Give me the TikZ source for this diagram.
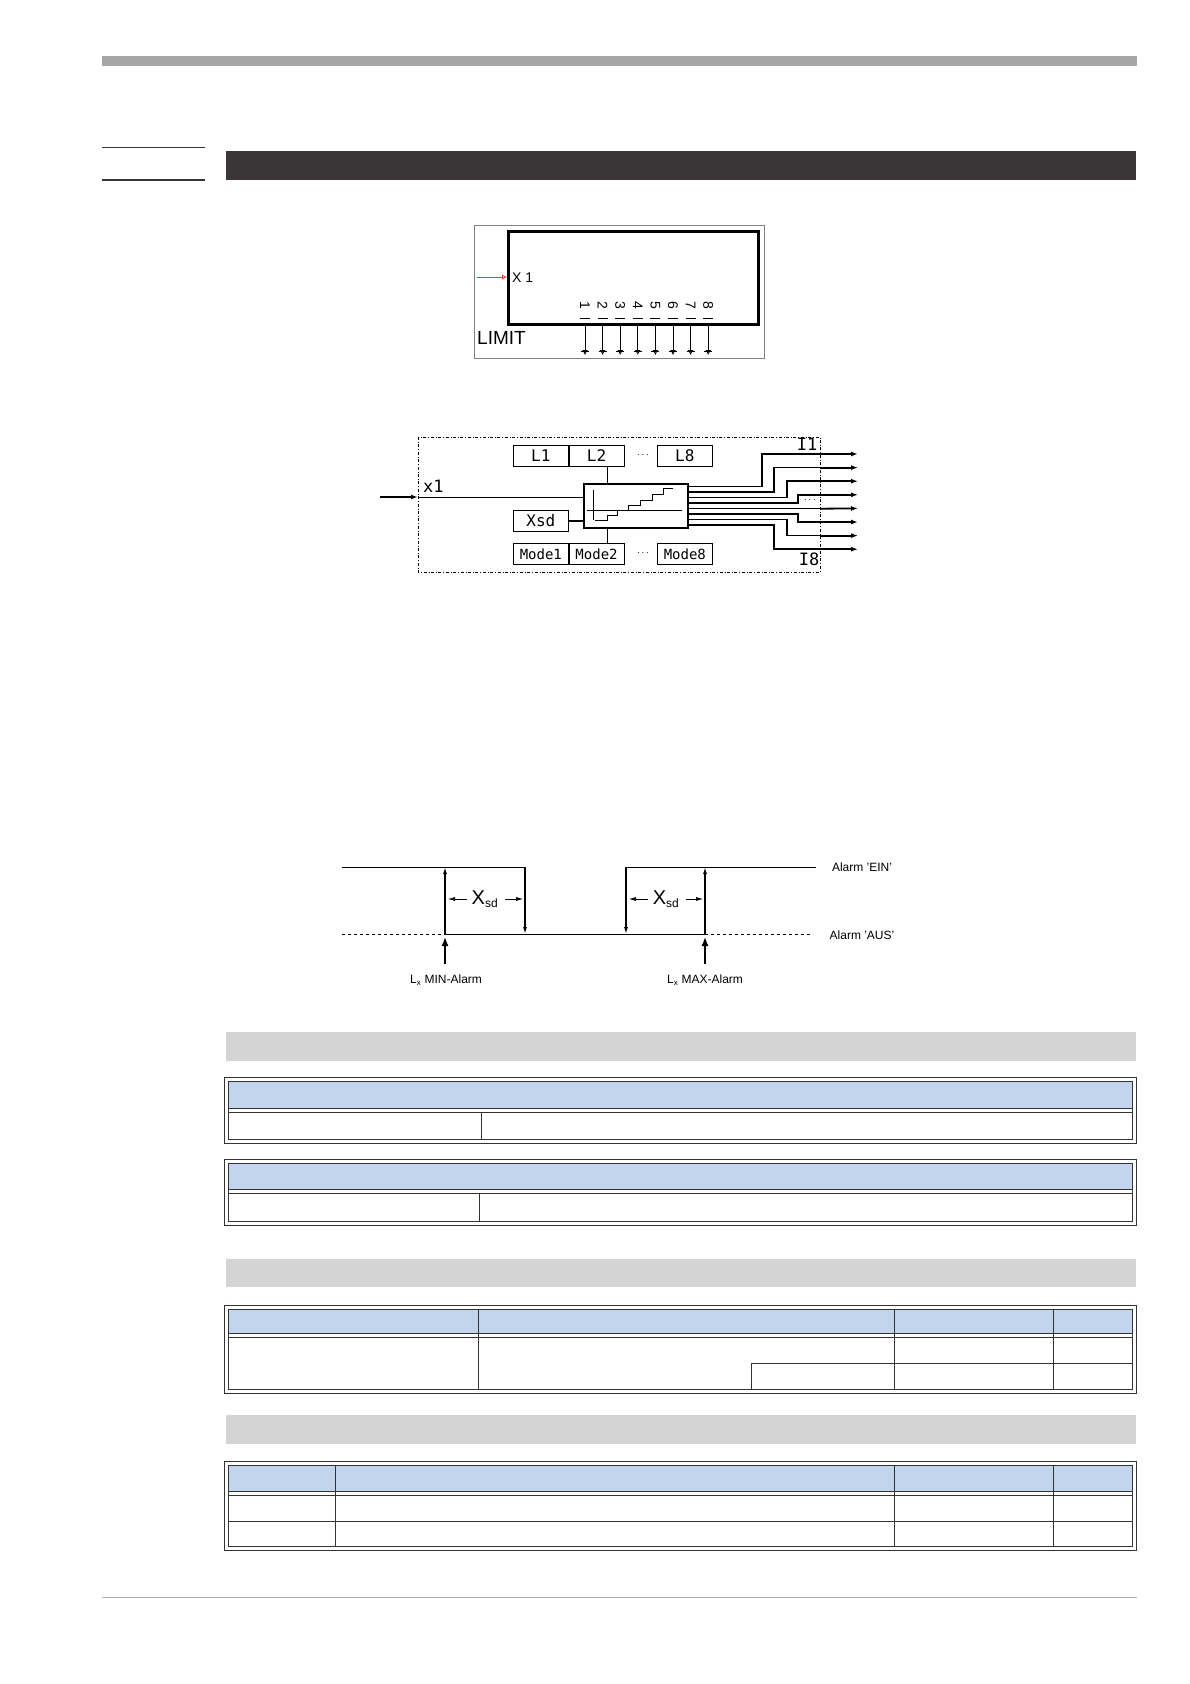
\documentclass[tikz,border=0pt]{standalone}
\usepackage{fontspec}
\setmainfont{Liberation Sans}
\newfontfamily\pix{DejaVu Sans Mono}
\usetikzlibrary{arrows.meta}
\definecolor{hdr}{HTML}{3A3637}
\definecolor{sec}{HTML}{D4D4D4}
\definecolor{tblue}{HTML}{C3D5EC}
\definecolor{pin}{HTML}{7070D0}
\tikzset{
 tb/.style={draw=black!80,line width=0.6pt},
 lbox/.style={draw,line width=0.7pt,minimum width=55pt,minimum height=21pt,inner sep=0pt,font=\pix\fontsize{16}{16}\selectfont},
 mbox/.style={draw,line width=0.7pt,minimum width=55pt,minimum height=21pt,inner sep=0pt,font=\pix\fontsize{14}{14}\selectfont},
 arr/.style={-{Latex[length=7pt,width=5pt]}},
}
\begin{document}
\begin{tikzpicture}[x=1pt,y=-1pt]
\useasboundingbox (0,0) rectangle (1190,1684);
% page header
\fill[black!35] (102,56) rectangle (1137,66);
\draw[line width=1.5pt,hdr] (102,147.5) -- (205,147.5);
\draw[line width=1.5pt,hdr] (102,180) -- (205,180);
\fill[hdr] (226,151) rectangle (1136,180);
% LIMIT block
\draw[black!50,line width=0.6pt] (474,225) rectangle (764,358);
\node[draw,line width=2.5pt,minimum width=250pt,minimum height=93pt,anchor=north west,inner sep=0] (lim) at (507,230) {};
\node[anchor=west,inner sep=0,font=\fontsize{14}{14}\selectfont] (x1l) at (512,278) {X 1};
\coordinate (rs) at (477,277);
\draw[red!80,line width=0.8pt,-{Latex[open,length=5pt,width=5pt]}] (rs) -- (lim.west |- rs);
\node[anchor=west,inner sep=0,font=\fontsize{19}{19}\selectfont] (limt) at (477,338) {LIMIT};
\foreach \i in {1,...,8}{
  \pgfmathsetmacro{\xx}{585+(\i-1)*17.6}
  \node[rotate=-90,inner sep=0,font=\fontsize{14}{14}\selectfont] (n\i) at (\xx,305) {\i};
  \draw[line width=1pt] (\xx-5,318) -- (\xx+5,318);
  \coordinate (pt\i) at (\xx,325);
  \coordinate (pb\i) at (\xx,355);
  \draw[pin,line width=0.8pt,-{Latex[open,length=5pt,width=6pt]}] (pt\i) -- (pb\i);
  \draw[pin,line width=0.8pt] (\xx-4,351) -- (\xx+4,351);
}
% Block diagram
\draw[dash dot,line width=0.8pt] (418,437) rectangle (820,572);
\node[lbox,anchor=north west] (L1) at (513,445) {L1};
\node[lbox,anchor=west] (L2) at (L1.east) {L2};
\node[font=\bfseries] (dt) at (643,455) {$\cdots$};
\node[lbox,anchor=north west] (L8) at (657,445) {L8};
\node[lbox,anchor=north west] (xsd) at (513,510) {Xsd};
\node[mbox,anchor=north west] (M1) at (513,543) {Mode1};
\node[mbox,anchor=west] (M2) at (M1.east) {Mode2};
\node[font=\bfseries] (dm) at (643,553) {$\cdots$};
\node[mbox,anchor=north west] (M8) at (657,543) {Mode8};
\node[draw,line width=1.8pt,minimum width=104pt,minimum height=44pt,anchor=north west,inner sep=0] (cb) at (583,483) {};
\draw[line width=0.5pt] (593,490) -- (593,520);
\draw[line width=0.5pt] (587,510) -- (682,510);
\draw[line width=0.5pt] (595,520) -- (607,520) -- (607,515) -- (617,515) -- (617,510) -- (628,510) -- (628,505) -- (640,505) -- (640,500) -- (652,500) -- (652,494) -- (663,494) -- (663,488) -- (673,488);
\coordinate (ain) at (380,497);
\coordinate (aedge) at (418,497);
\draw[line width=1.8pt,arr] (ain) -- (aedge);
\draw[line width=0.7pt] (aedge) -- (cb.west |- aedge);
\node[anchor=west,inner sep=0,font=\pix\fontsize{17}{17}\selectfont] (xl) at (423,486) {x1};
\draw[line width=0.7pt] (607,466) -- (607,483);
\draw[line width=0.7pt] (607,527) -- (607,543);
\draw[line width=1.8pt] (xsd.east) -- (cb.west |- xsd.east);
\foreach \i/\bx in {1/762,2/774,3/787,4/798,5/0,6/798,7/787,8/774}{
  \pgfmathsetmacro{\ys}{486.7+(\i-1)*5.5}
  \pgfmathsetmacro{\ye}{454+(\i-1)*13.6}
  \coordinate (os\i) at (687,\ys);
  \coordinate (oe\i) at (858,\ye);
  \ifnum\bx=0
    \draw[line width=1.5pt] (os\i) -- (820,\ys);
    \draw[line width=1.8pt,arr] (820,\ys) -- (oe\i);
  \else
    \draw[line width=1.5pt] (os\i) -- (\bx,\ys) -- (\bx,\ye) -- (820,\ye);
    \draw[line width=1.8pt,arr] (820,\ye) -- (oe\i);
  \fi
}
\node[font=\pix\fontsize{17}{17}\selectfont] (i1) at (807,444) {I1};
\node[font=\pix\fontsize{17}{17}\selectfont] (i8) at (809,559) {I8};
\node[font=\bfseries] (od) at (810,500) {$\cdots$};
% Hysteresis
\tikzset{hy/.style={line width=0.8pt},ha/.style={line width=0.8pt,-{Latex[length=7pt,width=4pt]}}}
\coordinate (a1) at (445,934); \coordinate (a2) at (445,867);
\coordinate (b1) at (525,867); \coordinate (b2) at (525,934);
\coordinate (c1) at (626,867); \coordinate (c2) at (626,934);
\coordinate (d1) at (705,934); \coordinate (d2) at (705,867);
\draw[hy] (342,867) -- (525,867);
\draw[hy] (626,867) -- (816,867);
\draw[hy,dashed] (342,934) -- (445,934);
\draw[hy] (445,934) -- (705,934);
\draw[hy,dashed] (705,934) -- (813,934);
\draw[ha,line width=1.3pt] (a1) -- (a2);
\draw[ha,line width=1.3pt] (b1) -- (b2);
\draw[ha,line width=1.3pt] (c1) -- (c2);
\draw[ha,line width=1.3pt] (d1) -- (d2);
\node[font=\fontsize{20}{20}\selectfont] (xs1) at (485,899) {X\textsubscript{\fontsize{12}{12}\selectfont sd}};
\node[font=\fontsize{20}{20}\selectfont] (xs2) at (666,899) {X\textsubscript{\fontsize{12}{12}\selectfont sd}};
\draw[ha,line width=0.6pt] (467,899) -- (448,899);
\draw[ha,line width=0.6pt] (505,899) -- (523,899);
\draw[ha,line width=0.6pt] (648,899) -- (629,899);
\draw[ha,line width=0.6pt] (686,899) -- (703,899);
\coordinate (m1) at (445,964); \coordinate (m2) at (445,937);
\coordinate (k1) at (705,964); \coordinate (k2) at (705,937);
\draw[line width=1.3pt,-{Latex[length=9pt,width=7pt]}] (m1) -- (m2);
\draw[line width=1.3pt,-{Latex[length=9pt,width=7pt]}] (k1) -- (k2);
\node[font=\fontsize{12}{12}\selectfont] (minl) at (446,980) {L\textsubscript{x} MIN-Alarm};
\node[font=\fontsize{12}{12}\selectfont] (maxl) at (705,980) {L\textsubscript{x} MAX-Alarm};
\node[font=\fontsize{12}{12}\selectfont] (ein) at (862,867) {Alarm 'EIN'};
\node[font=\fontsize{12}{12}\selectfont] (aus) at (862,935) {Alarm 'AUS'};
% Section bars
\fill[sec] (226,1032) rectangle (1136,1061);
\fill[sec] (226,1259) rectangle (1136,1287);
\fill[sec] (226,1415) rectangle (1136,1444);
% Table 1
\fill[tblue] (228,1081) rectangle (1132,1108);
\draw[tb] (224,1077) rectangle (1136,1143);
\draw[tb] (228,1081) rectangle (1132,1139);
\draw[tb] (228,1108) -- (1132,1108); \draw[tb] (228,1112) -- (1132,1112);
\draw[tb] (481,1112) -- (481,1139);
% Table 2
\fill[tblue] (228,1163) rectangle (1132,1189);
\draw[tb] (224,1159) rectangle (1136,1225);
\draw[tb] (228,1163) rectangle (1132,1221);
\draw[tb] (228,1189) -- (1132,1189); \draw[tb] (228,1193) -- (1132,1193);
\draw[tb] (479,1193) -- (479,1221);
% Table 3
\fill[tblue] (228,1309) rectangle (1132,1333);
\draw[tb] (224,1305) rectangle (1136,1393);
\draw[tb] (228,1309) rectangle (1132,1389);
\draw[tb] (228,1333) -- (1132,1333); \draw[tb] (228,1337) -- (1132,1337);
\draw[tb] (478,1309) -- (478,1389);
\draw[tb] (894,1309) -- (894,1389);
\draw[tb] (1053,1309) -- (1053,1389);
\draw[tb] (751,1363) -- (1132,1363);
\draw[tb] (751,1363) -- (751,1389);
% Table 4
\fill[tblue] (228,1465) rectangle (1132,1491);
\draw[tb] (224,1461) rectangle (1136,1550);
\draw[tb] (228,1465) rectangle (1132,1546);
\draw[tb] (228,1491) -- (1132,1491); \draw[tb] (228,1495) -- (1132,1495);
\draw[tb] (228,1521) -- (1132,1521);
\draw[tb] (335,1465) -- (335,1546);
\draw[tb] (894,1465) -- (894,1546);
\draw[tb] (1053,1465) -- (1053,1546);
% footer line
\draw[black!30,line width=1pt] (102,1597) -- (1137,1597);
\end{tikzpicture}
\end{document}
